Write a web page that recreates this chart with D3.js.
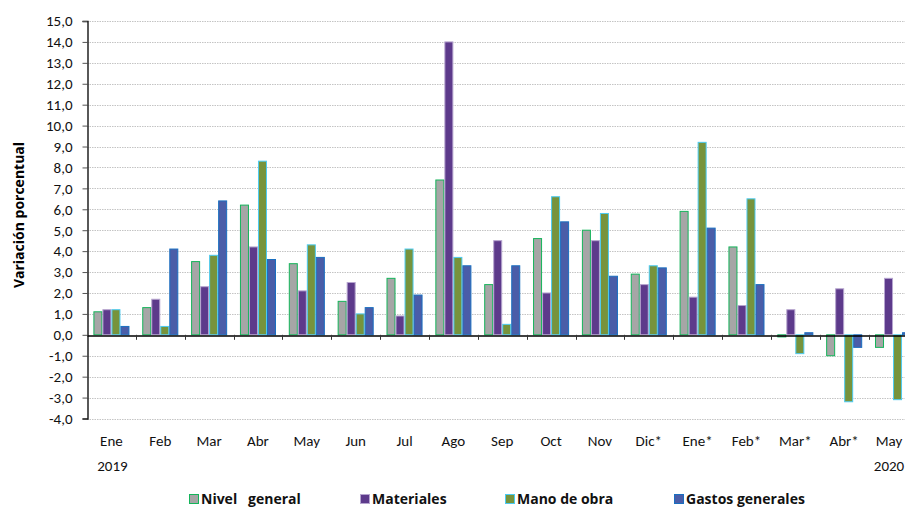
<!DOCTYPE html>
<html>
<head>
<meta charset="utf-8">
<script src="https://cdn.jsdelivr.net/npm/d3@7"></script>
<style>
  html, body { margin: 0; padding: 0; background: #fff; }
  svg { display: block; font-family: Carlito, Lato, sans-serif; }
</style>
</head>
<body>
<svg width="905" height="507"></svg>
<script>
var MONTHS = ['Ene', 'Feb', 'Mar', 'Abr', 'May', 'Jun', 'Jul', 'Ago', 'Sep',
  'Oct', 'Nov', 'Dic*', 'Ene*', 'Feb*', 'Mar*', 'Abr*', 'May'];
var YEARS = [{ at: 0, label: '2019' }, { at: 16, label: '2020' }];
var SERIES = ['Nivel   general', 'Materiales', 'Mano de obra', 'Gastos generales'];

var nivelGeneral  = [1.1, 1.3, 3.5, 6.2, 3.4, 1.6, 2.7, 7.4, 2.4, 4.6, 5.0, 2.9, 5.9, 4.2, -0.1, -1.0, -0.6];
var materiales    = [1.2, 1.7, 2.3, 4.2, 2.1, 2.5, 0.9, 14.0, 4.5, 2.0, 4.5, 2.4, 1.8, 1.4, 1.2, 2.2, 2.7];
var manoDeObra    = [1.2, 0.4, 3.8, 8.3, 4.3, 1.0, 4.1, 3.7, 0.5, 6.6, 5.8, 3.3, 9.2, 6.5, -0.9, -3.2, -3.1];
var gastosGrales  = [0.4, 4.1, 6.4, 3.6, 3.7, 1.3, 1.9, 3.3, 3.3, 5.4, 2.8, 3.2, 5.1, 2.4, 0.1, -0.6, 0.1];

var Y_TICKS = d3.range(-4, 15.001, 1);

var FILLS   = ['#a6a6a6', '#5d3a8b', '#77933c', '#4a5da8'];
var STROKES = ['#14b45a', '#b6a5cf', '#4ccbf2', '#1a6fc0'];

var LEFT = 87, TOP = 21, STEP = 48.85;

var svg = d3.select('svg');
var seriesValues = [nivelGeneral, materiales, manoDeObra, gastosGrales];
var idx = d3.range(MONTHS.length);

// month names repeat (May), so the band scale works on indices
var x0 = d3.scaleBand()
  .domain(idx)
  .range([LEFT, LEFT + STEP * MONTHS.length])
  .paddingInner(0).paddingOuter(0);

var x1 = d3.scaleBand()
  .domain(d3.range(SERIES.length))
  .range([0, x0.bandwidth()])
  .paddingInner(0).paddingOuter(0.71);

var y = d3.scaleLinear().domain([-4, 15]).range([418.5, TOP]);

var fmt = function (v) { return d3.format('.1f')(v).replace('.', ',').replace('−', '-'); };

// gridlines
svg.append('g')
  .selectAll('line')
  .data(Y_TICKS.filter(function (d) { return d !== 0; }))
  .join('line')
  .attr('x1', LEFT).attr('x2', 905)
  .attr('y1', function (d) { return Math.round(y(d)) + 0.5; })
  .attr('y2', function (d) { return Math.round(y(d)) + 0.5; })
  .attr('stroke', '#c4c4c4')
  .attr('stroke-width', 1)
  .attr('stroke-dasharray', '1.5,1');

// bars
var groups = svg.append('g')
  .selectAll('g')
  .data(idx)
  .join('g')
  .attr('transform', function (i) { return 'translate(' + x0(i) + ',0)'; });

groups.selectAll('rect')
  .data(function (i) {
    return seriesValues.map(function (s, k) { return { k: k, v: s[i] }; });
  })
  .join('rect')
  .attr('x', function (d) { return x1(d.k) + 0.5; })
  .attr('width', x1.bandwidth() - 1)
  .attr('y', function (d) { return Math.min(y(d.v), y(0)); })
  .attr('height', function (d) { return Math.abs(y(d.v) - y(0)); })
  .attr('fill', function (d) { return FILLS[d.k]; })
  .attr('stroke', function (d) { return STROKES[d.k]; })
  .attr('stroke-width', 1);

// y axis
var yAxis = svg.append('g')
  .attr('transform', 'translate(' + (LEFT + 0.5) + ',0)')
  .call(d3.axisLeft(y).tickValues(Y_TICKS).tickFormat(fmt).tickSize(5).tickPadding(10));
yAxis.select('.domain').attr('stroke', '#000').attr('stroke-width', 1.3);
yAxis.selectAll('.tick line').attr('stroke', '#555');
yAxis.selectAll('text')
  .attr('font-family', 'Carlito, Lato, sans-serif')
  .attr('font-size', 15)
  .attr('fill', '#111');

// x axis at zero
var xAxis = svg.append('g')
  .attr('transform', 'translate(0,' + (Math.round(y(0)) + 0.5) + ')')
  .call(d3.axisBottom(x0).tickSize(0).tickFormat(''));
xAxis.select('.domain').attr('stroke', '#000').attr('stroke-width', 1.3);

svg.append('g')
  .selectAll('line')
  .data(idx.slice(1))
  .join('line')
  .attr('x1', function (i) { return Math.round(x0(i)) + 0.5; })
  .attr('x2', function (i) { return Math.round(x0(i)) + 0.5; })
  .attr('y1', y(0)).attr('y2', y(0) + 5)
  .attr('stroke', '#333');

// category labels
svg.append('g')
  .selectAll('text')
  .data(idx)
  .join('text')
  .attr('x', function (i) { return x0(i) + x0.bandwidth() / 2 + (i === 16 ? -4 : 0); })
  .attr('y', 446)
  .attr('text-anchor', 'middle')
  .attr('font-size', 15)
  .attr('fill', '#111')
  .text(function (i) { return MONTHS[i]; });

svg.append('g')
  .selectAll('text')
  .data(YEARS)
  .join('text')
  .attr('x', function (d) { return x0(d.at) + x0.bandwidth() / 2 + (d.at === 0 ? 1 : -4); })
  .attr('y', 471)
  .attr('text-anchor', 'middle')
  .attr('font-size', 15)
  .attr('fill', '#111')
  .text(function (d) { return d.label; });

// y title
svg.append('text')
  .attr('transform', 'translate(24,215) rotate(-90)')
  .attr('text-anchor', 'middle')
  .attr('font-family', '"Open Sans", sans-serif')
  .attr('font-size', 14)
  .attr('font-weight', 'bold')
  .attr('fill', '#000')
  .text('Variación porcentual');

// legend
var LEGEND_X = [189, 360, 505, 674];
var legend = svg.append('g')
  .selectAll('g')
  .data(SERIES)
  .join('g')
  .attr('transform', function (d, i) { return 'translate(' + LEGEND_X[i] + ',499)'; });

legend.append('rect')
  .attr('x', 0.5).attr('y', -4.5)
  .attr('width', 9).attr('height', 9)
  .attr('fill', function (d, i) { return FILLS[i]; })
  .attr('stroke', function (d, i) { return STROKES[i]; });

legend.append('text')
  .attr('x', 12)
  .attr('y', 5)
  .attr('font-family', '"Open Sans", sans-serif')
  .attr('font-size', 14)
  .attr('font-weight', 'bold')
  .attr('fill', '#111')
  .style('white-space', 'pre')
  .text(function (d) { return d; });
</script>
</body>
</html>
